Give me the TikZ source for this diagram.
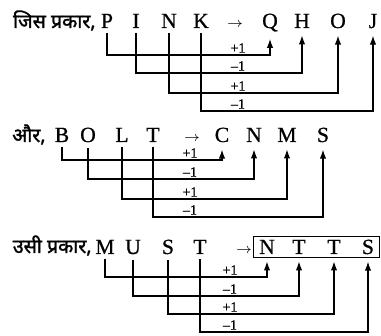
\documentclass[tikz,border=0pt]{standalone}
\usepackage{fontspec}
\setmainfont{Liberation Serif}
\newfontfamily\glyph[Ligatures=TeX, FakeBold=0.8]{Liberation Serif}
\newfontfamily\hindi[Script=Devanagari, FakeBold=1.5]{Noto Sans}
\usetikzlibrary{arrows.meta,fit}

\begin{document}
\begin{tikzpicture}[x=0.5pt, y=-0.5pt,
    letter/.style={anchor=base, inner sep=0pt, font=\glyph\fontsize{10.8}{12}\selectfont},
    head/.style={anchor=base east, inner sep=0pt, font=\hindi\fontsize{9.8}{11}\selectfont},
    sign/.style={anchor=south, inner sep=1pt, font=\glyph\fontsize{7}{8}\selectfont},
    link/.style={line width=0.6pt, -{Latex[length=4.5pt,width=3.2pt]}, shorten <=2.5pt, shorten >=3.5pt}]
    \useasboundingbox (0,0) rectangle (381,336);

    % Prima riga: PINK -> QHOJ
    \node[head] (h1) at (96,28) {जिस प्रकार,};
    \node[letter] (to1) at (235,28) {\fontsize{7.5}{8}\selectfont$\rightarrow$};
    \foreach \sx/\sl/\tx/\tl/\yy/\lab [count=\i] in {107/P/270/Q/55/+1, 136/I/302/H/73/--1, 169/N/338/O/93/+1, 201/K/373/J/111/--1} {
        \node[letter] (s1\i) at (\sx,28) {\sl};
        \node[letter] (t1\i) at (\tx,28) {\tl};
        \coordinate (k1\i) at (\sx,\yy); % angolo in basso
        \draw[link] (s1\i.south) -- (k1\i) -| (t1\i.south);
        \node[sign] (n1\i) at (238,\yy) {\lab};
    }

    % Seconda riga: BOLT -> CNMS
    \node[head] (h2) at (46,142) {और,};
    \node[letter] (to2) at (192,142) {\fontsize{7.5}{8}\selectfont$\rightarrow$};
    \foreach \sx/\sl/\tx/\tl/\yy/\lab [count=\i] in {62/B/222/C/160/+1, 88/O/254/N/179/--1, 122/L/287/M/199/+1, 153/T/323/S/217/--1} {
        \node[letter] (s2\i) at (\sx,142) {\sl};
        \node[letter] (t2\i) at (\tx,142) {\tl};
        \coordinate (k2\i) at (\sx,\yy);
        \draw[link] (s2\i.south) -- (k2\i) -| (t2\i.south);
        \node[sign] (n2\i) at (190,\yy) {\lab};
    }

    % Terza riga: MUST -> NTTS (risposta nel riquadro)
    \node[head] (h3) at (92,253) {उसी प्रकार,};
    \node[letter] (to3) at (244,254) {\fontsize{7.5}{8}\selectfont$\rightarrow$};
    \foreach \sx/\sl/\tx/\tl/\yy/\lab [count=\i] in {105/M/267/N/277/+1, 133/U/299/T/296/--1, 168/S/334/T/314/+1, 200/T/368/S/332/--1} {
        \node[letter] (s3\i) at (\sx,254) {\sl};
        \node[letter] (t3\i) at (\tx,254) {\tl};
        \coordinate (k3\i) at (\sx,\yy);
        \draw[link] (s3\i.south) -- (k3\i) -| (t3\i.south);
        \node[sign] (n3\i) at (230,\yy) {\lab};
    }
    \node[draw, line width=0.6pt, inner xsep=2.5pt, inner ysep=1.5pt, fit=(t31)(t34)] (box) {};
\end{tikzpicture}
\end{document}
